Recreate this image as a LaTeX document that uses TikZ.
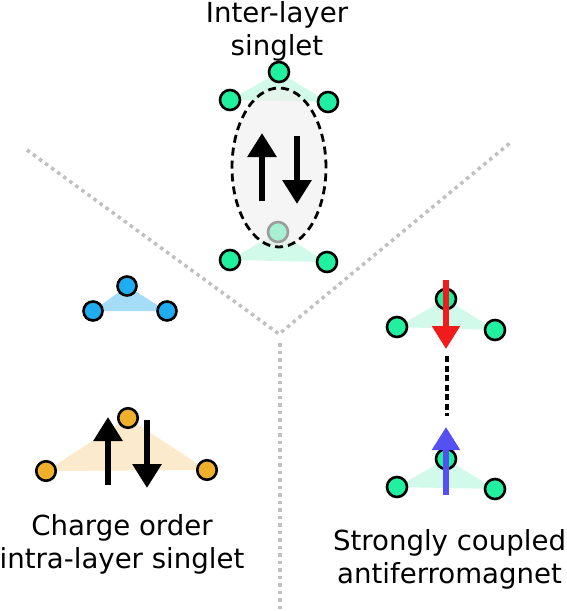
\documentclass[tikz,border=0pt]{standalone}
\usepackage{fontspec}
\setmainfont{DejaVu Sans}
\usetikzlibrary{shapes.geometric,arrows.meta}
\definecolor{gfill}{RGB}{32,240,160}
\definecolor{gtri}{RGB}{210,250,234}
\definecolor{bfill}{RGB}{32,172,240}
\definecolor{btri}{RGB}{165,220,248}
\definecolor{ofill}{RGB}{240,176,44}
\definecolor{otri}{RGB}{252,234,204}
\definecolor{divgrey}{RGB}{192,192,192}
\definecolor{spinred}{RGB}{240,28,28}
\definecolor{spinblue}{RGB}{84,80,242}
\tikzset{
  site/.style={circle, draw=black, line width=2.6pt, minimum size=20pt, inner sep=0pt},
  gsite/.style={site, fill=gfill},
  bsite/.style={site, fill=bfill, minimum size=19pt},
  osite/.style={site, fill=ofill, minimum size=19.5pt},
  divider/.style={draw=divgrey, line width=3.5pt, dash pattern=on 3.5pt off 4pt},
  spin/.style={line width=6.3pt, -{Triangle[width=28pt,length=24pt]}},
  label/.style={font=\fontsize{27.6pt}{33pt}\selectfont, align=center, anchor=base},
  singlet/.style={ellipse, draw=black, line width=2.8pt, dash pattern=on 8pt off 5pt,
    fill=gray!12, fill opacity=0.65, draw opacity=1, minimum width=94pt, minimum height=159pt, inner sep=0pt}
}
\begin{document}
\begin{tikzpicture}[x=1pt,y=-1pt]
\useasboundingbox (0,0) rectangle (566,611);
% dividers
\coordinate (dl) at (27,150);
\coordinate (dr) at (510,143);
\coordinate (dc) at (279,334);
\coordinate (dv) at (280,343);
\coordinate (db) at (280,611);
\draw[divider] (dl) -- (dc) -- (dr);
\draw[divider] (dv) -- (db);

% top: inter-layer singlet
\coordinate (la) at (278,232);
\coordinate (lb) at (230,260);
\coordinate (lc) at (327,262);
\fill[gtri] (la) -- (lb) -- (lc) -- cycle;
\node[gsite] (lan) at (la) {};
\node[gsite] (lbn) at (lb) {};
\node[gsite] (lcn) at (lc) {};
\coordinate (ua) at (279,72);
\coordinate (ub) at (230,100);
\coordinate (uc) at (328,102);
\fill[gtri] (ua) -- (ub) -- (uc) -- cycle;
\node[gsite] (uan) at (ua) {};
\node[gsite] (ubn) at (ub) {};
\node[gsite] (ucn) at (uc) {};
\node[singlet] (ell) at (279,167.5) {};
\coordinate (s1b) at (262,201);
\coordinate (s1t) at (262,133);
\coordinate (s2t) at (297,136);
\coordinate (s2b) at (297,204);
\draw[spin] (s1b) -- (s1t);
\draw[spin] (s2t) -- (s2b);
\node[label] (tl) at (277,55) {Inter-layer\\singlet};

% left: blue triangle
\coordinate (ba) at (127,286);
\coordinate (bb) at (93,311);
\coordinate (bc) at (167,311);
\fill[btri] (ba) -- (bb) -- (bc) -- cycle;
\node[bsite] (ban) at (ba) {};
\node[bsite] (bbn) at (bb) {};
\node[bsite] (bcn) at (bc) {};

% left: orange triangle
\coordinate (oa) at (128,418);
\coordinate (ob) at (46,471);
\coordinate (oc) at (207,470);
\fill[otri] (oa) -- (ob) -- (oc) -- cycle;
\node[osite] (oan) at (oa) {};
\node[osite] (obn) at (ob) {};
\node[osite] (ocn) at (oc) {};
\coordinate (o1b) at (108,485);
\coordinate (o1t) at (108,417);
\coordinate (o2t) at (147,420);
\coordinate (o2b) at (147,488);
\draw[spin] (o1b) -- (o1t);
\draw[spin] (o2t) -- (o2b);
\node[label] (ll) at (122,568) {Charge order\\intra-layer singlet};

% right: strongly coupled antiferromagnet
\coordinate (ra) at (446,299);
\coordinate (rb) at (397,327);
\coordinate (rc) at (495,330);
\fill[gtri] (ra) -- (rb) -- (rc) -- cycle;
\node[gsite] (ran) at (ra) {};
\node[gsite] (rbn) at (rb) {};
\node[gsite] (rcn) at (rc) {};
\coordinate (qa) at (446,459);
\coordinate (qb) at (397,487);
\coordinate (qc) at (495,489);
\fill[gtri] (qa) -- (qb) -- (qc) -- cycle;
\node[gsite] (qan) at (qa) {};
\node[gsite] (qbn) at (qb) {};
\node[gsite] (qcn) at (qc) {};
\coordinate (r1t) at (446,280);
\coordinate (r1b) at (446,349);
\coordinate (r2b) at (446,495);
\coordinate (r2t) at (446,427);
\draw[spin, line width=5.3pt, spinred, -{Triangle[width=27pt,length=23pt]}] (r1t) -- (r1b);
\draw[spin, line width=5.3pt, spinblue, -{Triangle[width=27pt,length=23pt]}] (r2b) -- (r2t);
\coordinate (cpt) at (447,356);
\coordinate (cpb) at (447,416);
\draw[line width=3.2pt, dash pattern=on 6pt off 3.5pt] (cpt) -- (cpb);
\node[label] (rl) at (449.5,583) {Strongly coupled\\antiferromagnet};
\end{tikzpicture}
\end{document}
